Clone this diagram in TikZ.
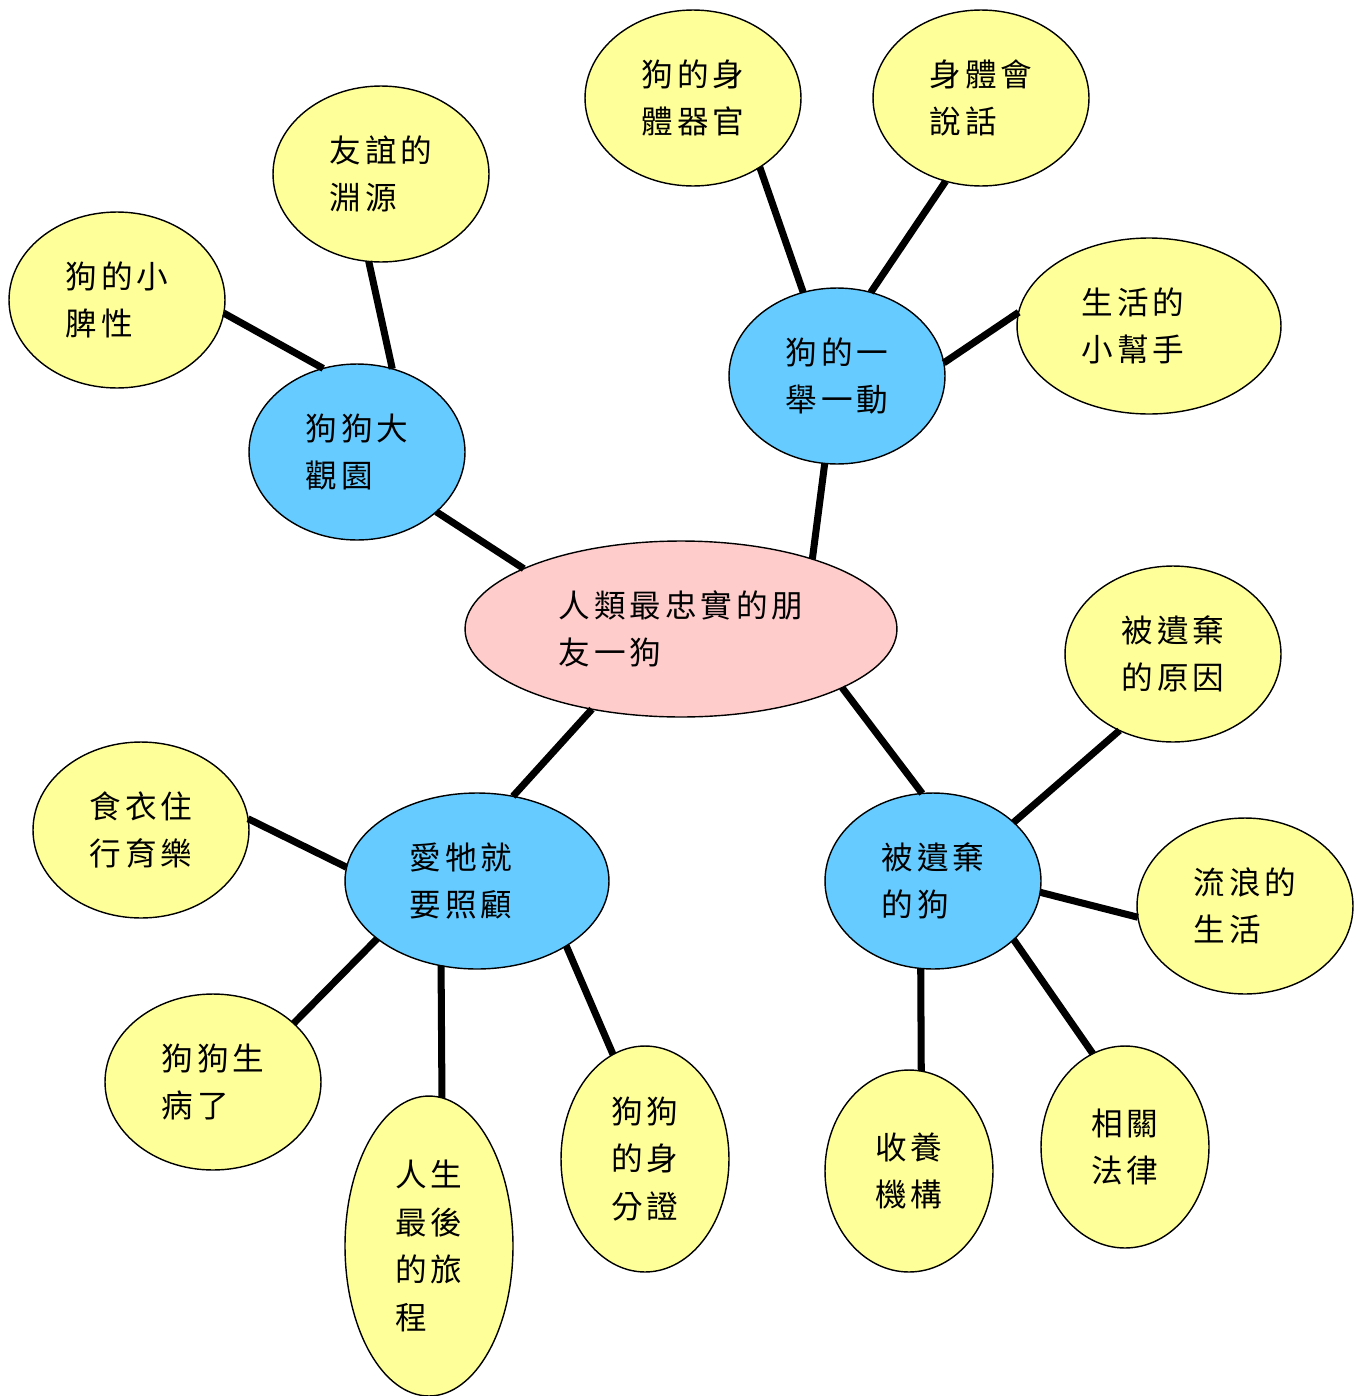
\documentclass[tikz,border=0pt]{standalone}
\usepackage{fontspec}
\setmainfont{Noto Sans CJK TC}[LetterSpace=12]
\usepackage{xcolor}
\usepackage{tikz}
\usetikzlibrary{shapes.geometric}

\definecolor{hubpink}{HTML}{FFCCCC}
\definecolor{topicblue}{HTML}{66CCFF}
\definecolor{leafyellow}{HTML}{FFFF99}

\begin{document}
\begin{tikzpicture}[x=0.02cm, y=-0.02cm, align=left,
        bubble/.style={ellipse, draw, line width=0.8pt, inner sep=0pt, outer sep=0pt, font=\fontsize{18pt}{27pt}\selectfont},
        hub/.style={bubble, fill=hubpink, minimum width=8.64cm, minimum height=3.52cm},
        topic/.style={bubble, fill=topicblue, minimum width=4.32cm, minimum height=3.52cm},
        leaf/.style={bubble, fill=leafyellow, minimum width=4.32cm, minimum height=3.52cm},
        wideleaf/.style={leaf, minimum width=5.28cm},
        link/.style={line width=4pt}]
        \useasboundingbox (0,0) rectangle (1367,1396);

        \node [hub] (hub) at (681,629) {人類最忠實的朋\\友一狗};

        \node [topic] (park) at (357,452) {狗狗大\\觀園};
        \node [topic] (moves) at (837,376) {狗的一\\舉一動};
        \node [topic, minimum width=5.28cm] (care) at (477,881) {愛牠就\hspace*{0.64cm}\\要照顧};
        \node [topic] (abandoned) at (933,881) {被遺棄\\的狗};

        \node [leaf] (temper) at (117,300) {狗的小\\脾性};
        \node [leaf] (friend) at (381,174) {友誼的\\淵源};
        \node [leaf] (organs) at (693,98) {狗的身\\體器官};
        \node [leaf] (body) at (981,98) {身體會\\說話};
        \node [wideleaf] (helper) at (1149,326) {生活的\hspace*{0.64cm}\\小幫手};
        \node [leaf] (reasons) at (1173,654) {被遺棄\\的原因};
        \node [leaf] (stray) at (1245,906) {流浪的\\生活};
        \node [leaf, minimum width=3.36cm, minimum height=4.04cm] (law) at (1125,1147) {相關\\法律};
        \node [leaf, minimum width=3.36cm, minimum height=4.04cm] (adopt) at (909,1171) {收養\\機構};
        \node [leaf, minimum width=3.36cm, minimum height=4.52cm] (idcard) at (645,1159) {狗狗\\的身\\分證};
        \node [leaf, minimum width=3.36cm, minimum height=6cm] (journey) at (429,1246) {人生\\最後\\的旅\\程};
        \node [leaf] (sick) at (213,1082) {狗狗生\\病了};
        \node [leaf] (living) at (141,830) {食衣住\\行育樂};

        \draw[link] (hub.159.4) -- (park.-37.3);
        \draw[link] (hub.28) -- (moves.262.3);
        \draw[link] (hub.222.5) -- (care.67.8);
        \draw[link] (hub.-20.6) -- (abandoned.97.8);

        \draw[link] (park.112.2) -- (temper.-7.4);
        \draw[link] (park.67.8) -- (friend.262);

        \draw[link] (moves.112) -- (organs.-46.8);
        \draw[link] (moves.68) -- (body.247.8);
        \draw[link] (moves.7.4) -- (helper.174.4);

        \draw[link] (care.174.4) -- (living.6.3);
        \draw[link] (care.210.3) -- (sick.36.4);
        \draw[link] (care.247.8) -- (journey.85.4);
        \draw[link] (care.-36.9) -- (idcard.107.7);

        \draw[link] (abandoned.36.9) -- (reasons.235.7);
        \draw[link] (abandoned.-6.3) -- (stray.186.3);
        \draw[link] (abandoned.262.2) -- (adopt.83.2);
        \draw[link] (abandoned.-36.9) -- (law.109.6);

    \end{tikzpicture}
\end{document}
